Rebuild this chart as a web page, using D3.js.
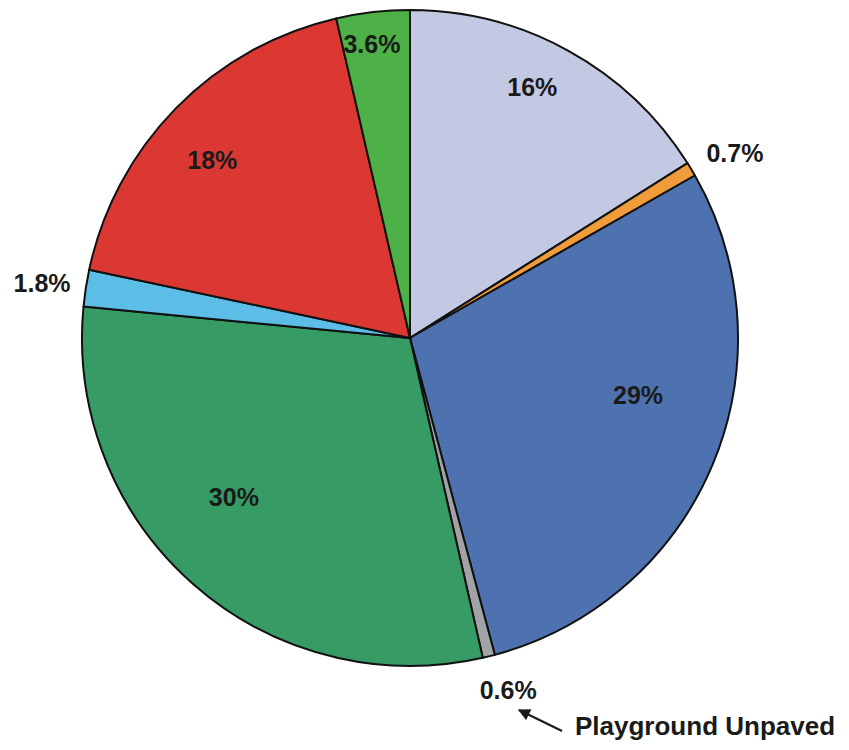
<!DOCTYPE html>
<html>
<head>
<meta charset="utf-8">
<script src="https://cdn.jsdelivr.net/npm/d3@7"></script>
<style>
  body { margin: 0; background: #fff; }
  text { font-family: "Liberation Sans", Arial, sans-serif; font-weight: bold; fill: #1a1a1a; }
</style>
</head>
<body>
<div id="chart"></div>
<script>
// slice data, clockwise from 12 o'clock
const categories = ["A", "B", "C", "Playground Unpaved", "E", "F", "G", "H"];
const values = [16, 0.7, 29, 0.6, 30, 1.8, 18, 3.6];
const labels = ["16%", "0.7%", "29%", "0.6%", "30%", "1.8%", "18%", "3.6%"];
const colors = ["#c3c8e3", "#f09c3a", "#4e72b0", "#a2a3a7", "#369b64", "#5cbde6", "#dc3833", "#4db147"];

// label placement (polar: degrees clockwise from top, radius in px)
const labelAngle = [26, 60.3, 104, 164.4, 228, 278.5, 312, 352.6];
const labelRadius = [279, 374, 235, 365, 237, 372, 266, 296];

const width = 849, height = 750;
const cx = 410, cy = 338, radius = 328;

const svg = d3.select("#chart").append("svg")
  .attr("width", width)
  .attr("height", height);

const g = svg.append("g").attr("transform", `translate(${cx},${cy})`);

const pie = d3.pie().sort(null).value(d => d.value);
const arc = d3.arc().innerRadius(0).outerRadius(radius);

const data = categories.map((c, i) => ({ name: c, value: values[i], color: colors[i] }));

g.selectAll("path")
  .data(pie(data))
  .enter()
  .append("path")
  .attr("d", arc)
  .attr("fill", d => d.data.color)
  .attr("stroke", "#111")
  .attr("stroke-width", 2)
  .attr("stroke-linejoin", "round");

g.selectAll("text.pct")
  .data(labels)
  .enter()
  .append("text")
  .attr("class", "pct")
  .attr("transform", (d, i) => {
    const p = d3.pointRadial(labelAngle[i] * Math.PI / 180, labelRadius[i]);
    return `translate(${p[0]},${p[1]})`;
  })
  .attr("text-anchor", "middle")
  .attr("dominant-baseline", "central")
  .attr("font-size", "25px")
  .text(d => d);

// annotation for the tiny slice
svg.append("defs").append("marker")
  .attr("id", "arrow")
  .attr("viewBox", "0 0 10 10")
  .attr("refX", 9)
  .attr("refY", 5)
  .attr("markerWidth", 7)
  .attr("markerHeight", 7)
  .attr("markerUnits", "userSpaceOnUse")
  .attr("orient", "auto")
  .append("path")
  .attr("d", "M0,0 L10,5 L0,10 Z")
  .attr("fill", "#1a1a1a");

svg.select("defs marker")
  .attr("markerWidth", 14)
  .attr("markerHeight", 12);

svg.append("line")
  .attr("x1", 562).attr("y1", 731)
  .attr("x2", 519).attr("y2", 710)
  .attr("stroke", "#1a1a1a")
  .attr("stroke-width", 2.2)
  .attr("marker-end", "url(#arrow)");

svg.append("text")
  .attr("x", 575)
  .attr("y", 735)
  .attr("font-size", "26px")
  .text("Playground Unpaved");
</script>
</body>
</html>
